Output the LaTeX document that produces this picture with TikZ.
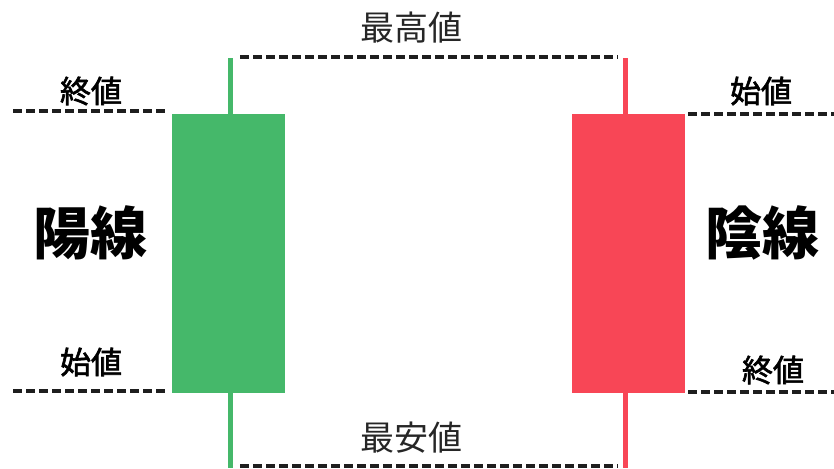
\documentclass[tikz,border=0pt]{standalone}
\usepackage{fontspec}
\newfontfamily\cjk{Noto Sans CJK JP}
\newfontfamily\cjkmed[FakeBold=2]{Noto Sans CJK JP}
\definecolor{yanggreen}{RGB}{69,184,106}
\definecolor{yinred}{RGB}{248,70,86}
\definecolor{dashgray}{RGB}{30,30,30}
\begin{document}
\begin{tikzpicture}[x=1pt,y=-1pt,
  guide/.style={draw=dashgray,line width=3.4pt,dash pattern=on 9pt off 4pt},
  lbl/.style={font=\cjkmed\fontsize{31}{31}\selectfont,text=black,inner sep=0pt},
  toplbl/.style={font=\cjk\fontsize{34}{34}\selectfont,text=black!85,inner sep=0pt},
  big/.style={font=\cjk\bfseries\fontsize{57}{57}\selectfont,text=black,inner sep=0pt}]
\useasboundingbox (0,0) rectangle (834,468);
\fill[white] (0,0) rectangle (834,468);
% wicks
\fill[yanggreen] (228,58) rectangle (233,468);
\fill[yinred] (623,58) rectangle (628,468);
% bodies
\fill[yanggreen] (172,114) rectangle (285,393);
\fill[yinred] (572,114) rectangle (685,393);
% guide lines
\coordinate (hiL) at (240,57); \coordinate (hiR) at (618,57);
\coordinate (loL) at (240,466); \coordinate (loR) at (618,466);
\draw[guide] (hiL) -- (hiR);
\draw[guide] (loL) -- (loR);
\coordinate (gtL) at (13,111); \coordinate (gtR) at (168,111);
\coordinate (gbL) at (13,391); \coordinate (gbR) at (168,391);
\draw[guide] (gtL) -- (gtR);
\draw[guide] (gbL) -- (gbR);
\coordinate (rtL) at (688,114); \coordinate (rtR) at (834,114);
\coordinate (rbL) at (688,392); \coordinate (rbR) at (834,392);
\draw[guide] (rtL) -- (rtR);
\draw[guide] (rbL) -- (rbR);
% labels
\node[toplbl] (high) at (411,28) {最高値};
\node[toplbl] (low) at (411,438) {最安値};
\node[lbl] (closeL) at (91,91) {終値};
\node[lbl] (openL) at (91,362) {始値};
\node[lbl] (openR) at (761,91) {始値};
\node[lbl] (closeR) at (773,370) {終値};
\node[big] (yang) at (90,233) {陽線};
\node[big] (yin) at (762,233) {陰線};
\end{tikzpicture}
\end{document}
